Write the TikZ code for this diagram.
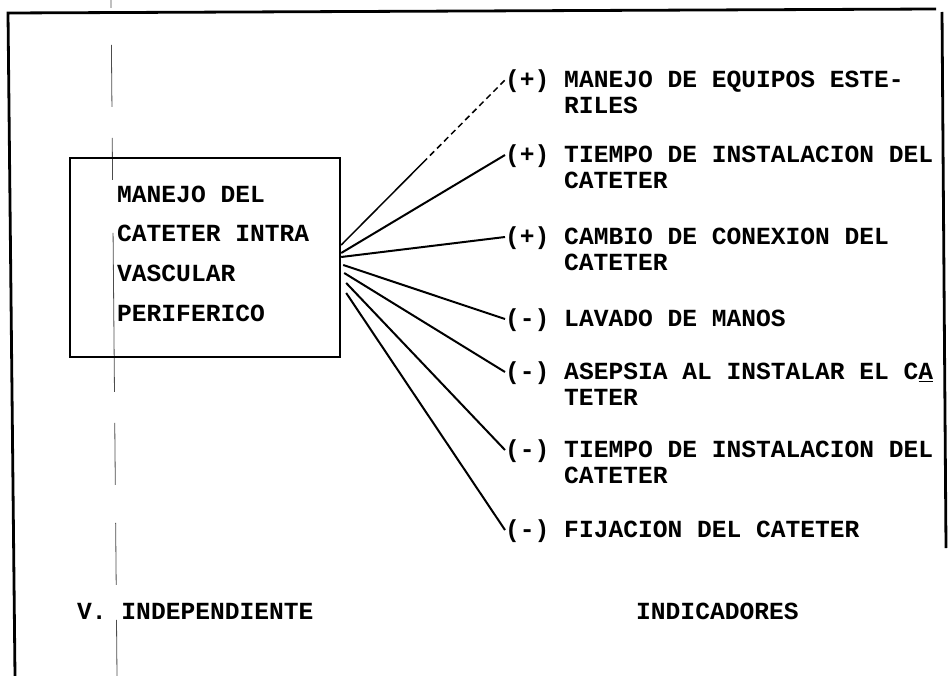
\documentclass[tikz,border=0pt]{standalone}
\usepackage{fontspec}
\setmonofont{Liberation Mono}
\usetikzlibrary{positioning}
\frenchspacing

\tikzset{
  texto/.style={font=\ttfamily\bfseries\fontsize{24.6pt}{39.7pt}\selectfont, inner sep=0pt},
  indic/.style={texto, text height=15pt, text depth=0pt},
  caja/.style={draw, line width=2.4pt, minimum width=270pt, minimum height=199pt, inner sep=0pt},
  marco/.style={line width=2.8pt},
  conector/.style={line width=2pt},
  tenue/.style={line width=1.5pt, dash pattern=on 122pt off 4pt on 6pt off 4pt on 6pt off 4pt on 6pt off 4pt on 6pt off 4pt on 6pt off 4pt on 6pt off 4pt on 6pt off 4pt on 6pt off 4pt on 6pt off 4pt on 6pt off 4pt on 6pt off 4pt on 6pt off 10pt},
  pliegue/.style={line width=0.8pt, black!70, dash pattern=on 8pt off 37pt on 62pt off 31pt on 42pt off 53pt on 159pt off 31pt on 62pt off 38pt on 62pt off 35pt on 60pt off 20pt},
}

\begin{document}
\begin{tikzpicture}[x=1pt, y=-1pt]
\useasboundingbox (0,0) rectangle (949,676);
% marco de la hoja
\draw[marco] (15,676) -- (8,13) -- (936,9);
\draw[marco] (942,12) -- (946,548);
\draw[pliegue] (111,0) -- (117,676);

% variable independiente
\node (vi) [caja] at (205,257.5) {};
\node (vitxt) [texto, align=left, anchor=west] at (117,253.5) {MANEJO DEL\\CATETER INTRA\\VASCULAR\\PERIFERICO};

% indicadores
\node (i1) [indic, anchor=west] at (505,80) {(+) MANEJO DE EQUIPOS ESTE-};
\node (i1b) [indic, below right=11pt and 59pt of i1.south west] {RILES};
\node (i2) [indic, anchor=west] at (505,155) {(+) TIEMPO DE INSTALACION DEL};
\node (i2b) [indic, below right=11pt and 59pt of i2.south west] {CATETER};
\node (i3) [indic, anchor=west] at (505,237) {(+) CAMBIO DE CONEXION DEL};
\node (i3b) [indic, below right=11pt and 59pt of i3.south west] {CATETER};
\node (i4) [indic, anchor=west] at (505,319) {(-) LAVADO DE MANOS};
\node (i5) [indic, anchor=west] at (505,372) {(-) ASEPSIA AL INSTALAR EL C\underline{A}};
\node (i5b) [indic, below right=11pt and 59pt of i5.south west] {TETER};
\node (i6) [indic, anchor=west] at (505,450) {(-) TIEMPO DE INSTALACION DEL};
\node (i6b) [indic, below right=11pt and 59pt of i6.south west] {CATETER};
\node (i7) [indic, anchor=west] at (505,530) {(-) FIJACION DEL CATETER};

% rotulos
\node (vind) [indic, anchor=west] at (77,612) {V. INDEPENDIENTE};
\node (indi) [indic, anchor=west] at (636,612) {INDICADORES};

% conectores
\draw[tenue] ([yshift=12.5pt]vi.east) -- (i1.west);
\foreach \dx/\dy/\dest in {0/4.5/i2, 0/0.5/i3, 2/-7.5/i4, 3/-15.5/i5, 5/-25.5/i6, 5/-35.5/i7}
  \draw[conector] ([xshift=\dx pt, yshift=\dy pt]vi.east) -- (\dest.west);
\end{tikzpicture}
\end{document}
